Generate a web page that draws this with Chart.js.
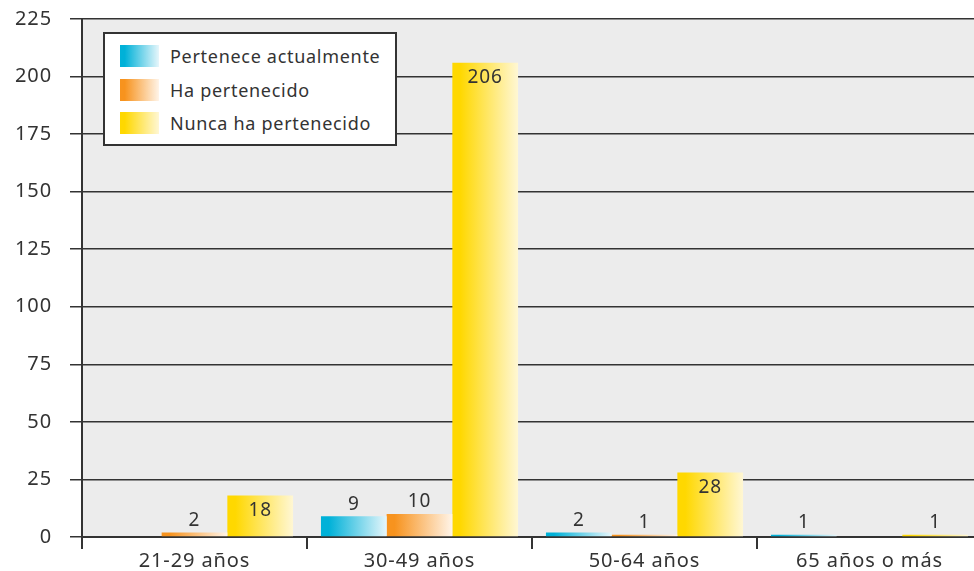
<!DOCTYPE html>
<html>
<head>
<meta charset="utf-8">
<script src="https://cdn.jsdelivr.net/npm/chart.js@4"></script>
<style>
    html, body {margin: 0; padding: 0; background: #fff; overflow: hidden;}
    #wrap {position: relative; width: 982px; height: 571px;}
    #legend {
        position: absolute; left: 103px; top: 32px; width: 290px; height: 110px;
        border: 2px solid #333; background: #fff;
        font-family: 'Noto Sans', sans-serif; font-size: 18px; letter-spacing: 0.7px; color: #333;
    }
    #legend .item {position: absolute; left: 15px; height: 22px; line-height: 22px; white-space: nowrap;}
    #legend .sw {display: inline-block; width: 39px; height: 22px; vertical-align: top; margin-right: 11px;}
</style>
</head>
<body>
<div id="wrap">
    <canvas id="barChart" width="982" height="571"></canvas>
    <div id="legend"></div>
</div>
<script>
// data
const categories = ['21-29 años', '30-49 años', '50-64 años', '65 años o más'];
const seriesNames = ['Pertenece actualmente', 'Ha pertenecido', 'Nunca ha pertenecido'];
const pertenece = [0, 9, 2, 1];
const haPertenecido = [2, 10, 1, 0];
const nunca = [18, 206, 28, 1];

const catPct = 0.876;

// gradient colours per series: [solid, light]
const colours = [
    ['#00b1d8', '#e6f6fb'],
    ['#f7931e', '#fff4e8'],
    ['#ffd800', '#fff7d4']
];

// legend (html)
const legendEl = document.getElementById('legend');
seriesNames.forEach((name, i) => {
    const row = document.createElement('div');
    row.className = 'item';
    row.style.top = (11 + i * 33.5) + 'px';
    row.innerHTML = '<span class="sw" style="background: linear-gradient(to right, ' +
        colours[i][0] + ' 0%, ' + colours[i][0] + ' 12%, ' + colours[i][1] + ' 100%)"></span>' + name;
    legendEl.appendChild(row);
});

// grey plot background + wider letter spacing for canvas text
const plotBg = {
    id: 'plotBg',
    beforeDraw(chart) {
        const a = chart.chartArea, ctx = chart.ctx;
        ctx.letterSpacing = '0.9px';
        ctx.save();
        ctx.fillStyle = '#ececec';
        ctx.fillRect(a.left, a.top, a.right - a.left, a.bottom - a.top);
        ctx.restore();
    }
};

// horizontal gradient for a bar, worked out from the x scale
function barGradient(context) {
    const chart = context.chart;
    const xs = chart.scales.x;
    const i = context.datasetIndex;
    if (!xs || !chart.chartArea) return colours[i][0];
    const cw = xs.width / categories.length;
    const bw = cw * catPct / 3;
    const x0 = xs.getPixelForValue(context.dataIndex) - cw * catPct / 2 + i * bw;
    const g = chart.ctx.createLinearGradient(x0, 0, x0 + bw, 0);
    g.addColorStop(0, colours[i][0]);
    g.addColorStop(0.12, colours[i][0]);
    g.addColorStop(1, colours[i][1]);
    return g;
}

// value labels
const valueLabels = {
    id: 'valueLabels',
    afterDatasetsDraw(chart) {
        const ctx = chart.ctx;
        ctx.save();
        ctx.font = '19px "Noto Sans"';
        ctx.fillStyle = '#333';
        ctx.textAlign = 'center';
        ctx.textBaseline = 'middle';
        chart.data.datasets.forEach((ds, i) => {
            chart.getDatasetMeta(i).data.forEach((bar, j) => {
                const v = ds.data[j];
                if (!v) return;
                const h = bar.base - bar.y;
                const y = h > 30 ? bar.y + 15 : bar.y - 12;
                ctx.fillText(String(v), bar.x, y);
            });
        });
        ctx.restore();
    }
};

const barCtx = document.getElementById('barChart').getContext('2d');
const barChart = new Chart(barCtx, {
    type: 'bar',
    data: {
        labels: categories,
        datasets: [
            {label: seriesNames[0], data: pertenece},
            {label: seriesNames[1], data: haPertenecido},
            {label: seriesNames[2], data: nunca}
        ].map(d => Object.assign(d, {
            backgroundColor: barGradient,
            borderWidth: 0,
            categoryPercentage: catPct,
            barPercentage: 1
        }))
    },
    options: {
        responsive: false,
        animation: false,
        layout: {padding: {top: 19, right: 0, left: 0, bottom: 0}},
        plugins: {
            legend: {display: false},
            tooltip: {enabled: false}
        },
        scales: {
            x: {
                afterFit(scale) { scale.height = 34; },
                grid: {display: true, drawOnChartArea: false, drawTicks: true, tickLength: 12, color: '#333', lineWidth: 2, offset: true},
                border: {display: true, color: '#333', width: 2},
                ticks: {color: '#333', font: {family: 'Noto Sans', size: 20}, padding: 0}
            },
            y: {
                min: 0,
                max: 225,
                afterFit(scale) {
                    scale.width = 82;
                    scale.paddingTop = 12;
                    scale.paddingBottom = 0;
                },
                ticks: {stepSize: 25, color: '#333', font: {family: 'Noto Sans', size: 20}, padding: 18},
                grid: {color: '#333', lineWidth: 1.5, tickLength: 12},
                border: {display: true, color: '#333', width: 2}
            }
        }
    },
    plugins: [plotBg, valueLabels]
});
</script>
</body>
</html>
